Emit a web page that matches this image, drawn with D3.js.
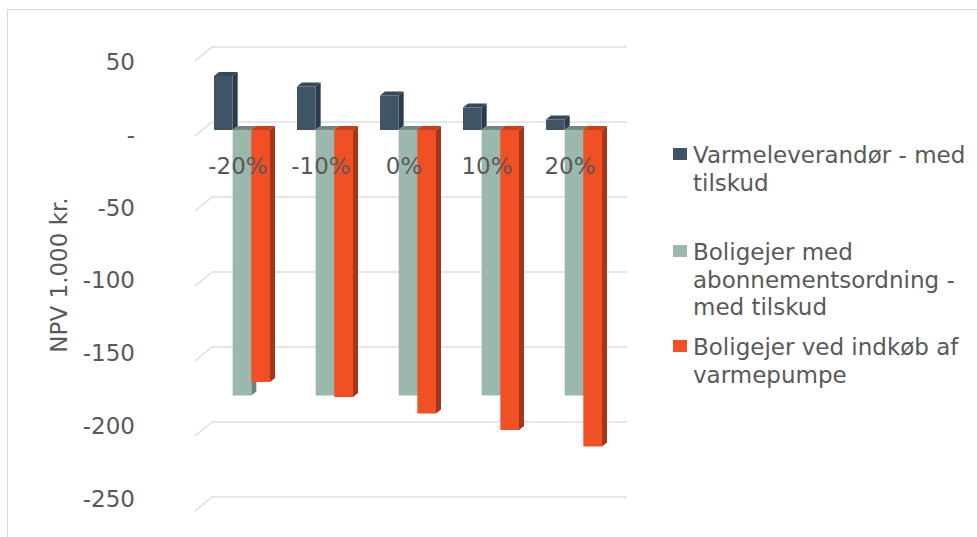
<!DOCTYPE html>
<html>
<head>
<meta charset="utf-8">
<script src="https://cdn.jsdelivr.net/npm/d3@7"></script>
<style>
  body { margin: 0; background: #fff; }
  text { font-family: "DejaVu Sans", Verdana, sans-serif; fill: #595959; }
</style>
</head>
<body>
<script>
// data
const categories = ["-20%", "-10%", "0%", "10%", "20%"];
const seriesNames = ["Varmeleverandør - med tilskud",
                     "Boligejer med abonnementsordning - med tilskud",
                     "Boligejer ved indkøb af varmepumpe"];
const varmeleverandor = [36, 29, 23, 15, 7];
const boligejerAbonnement = [-177, -177, -177, -177, -177];
const boligejerVarmepumpe = [-168, -178, -189, -200, -211];
const yTicks = [50, 0, -50, -100, -150, -200, -250];
const legendLines = [["Varmeleverandør - med", "tilskud"],
                     ["Boligejer med", "abonnementsordning -", "med tilskud"],
                     ["Boligejer ved indkøb af", "varmepumpe"]];

let screen = {width: 977, height: 537};
let colors = [
  {front: "#3f5466", top: "#34495a", side: "#2b3b48"},
  {front: "#9cb8ad", top: "#74877f", side: "#6d8079"},
  {front: "#f05023", top: "#c5401a", side: "#a4361a"}
];
let depth = {dx: 5, dy: -4};      // bar depth
let wall = {dx: 17, dy: -14};     // front-left -> back wall

let seriesData = [varmeleverandor, boligejerAbonnement, boligejerVarmepumpe];

let svg = d3.select("body").append("svg")
    .attr("width", screen.width)
    .attr("height", screen.height);

// chart border
svg.append("rect")
    .attr("x", 7.5).attr("y", 9.5)
    .attr("width", 990).attr("height", 560)
    .attr("fill", "none").attr("stroke", "#d9d9d9");

// scales
let yBar = d3.scaleLinear().domain([-250, 50]).range([505, 55]);
let yLabel = d3.scaleLinear().domain([-250, 50]).range([499, 62]);
let xBand = d3.scaleBand().domain(categories).range([203, 618]);
let xSub = d3.scaleBand().domain(seriesNames).range([11, 67]);

let backLeft = 212, backRight = 627;

//gridlines
let grid = svg.append("g");
yTicks.forEach(function(t) {
    let yb = yBar(t) - 8;
    grid.append("path")
        .attr("d", "M" + (backLeft - wall.dx) + "," + (yb - wall.dy) +
                   "L" + backLeft + "," + yb + "L" + backRight + "," + yb)
        .attr("fill", "none")
        .attr("stroke", "#dedede")
        .attr("stroke-width", 1.5);
});

//y labels
let yAxis = svg.append("g")
    .attr("transform", "translate(141,0)")
    .call(d3.axisLeft(yLabel).tickValues(yTicks).tickSize(0).tickPadding(6)
        .tickFormat(function(d) { return d === 0 ? "-" : d; }));
yAxis.select(".domain").remove();
yAxis.selectAll("text")
    .style("font-size", "23px")
    .attr("fill", "#595959")
    .style("font-family", "'DejaVu Sans', Verdana, sans-serif");

svg.append("text")
    .attr("transform", "translate(67,275) rotate(-90)")
    .attr("text-anchor", "middle")
    .style("font-size", "23px")
    .text("NPV 1.000 kr.");

//bars
let bars = svg.append("g");
let base = yBar(0);
categories.forEach(function(c, i) {
    seriesNames.forEach(function(s, k) {
        let v = seriesData[k][i];
        let x0 = xBand(c) + xSub(s);
        let x1 = x0 + xSub.bandwidth();
        let yv = yBar(v);
        let yTop = Math.min(base, yv), yBot = Math.max(base, yv);
        let col = colors[k];
        // side
        bars.append("path")
            .attr("d", "M" + x1 + "," + yTop + "L" + (x1 + depth.dx) + "," + (yTop + depth.dy) +
                       "L" + (x1 + depth.dx) + "," + (yBot + depth.dy) + "L" + x1 + "," + yBot + "Z")
            .attr("fill", col.side);
        // top
        bars.append("path")
            .attr("d", "M" + x0 + "," + yTop + "L" + x1 + "," + yTop +
                       "L" + (x1 + depth.dx) + "," + (yTop + depth.dy) +
                       "L" + (x0 + depth.dx) + "," + (yTop + depth.dy) + "Z")
            .attr("fill", col.top);
        // front
        bars.append("rect")
            .attr("x", x0).attr("y", yTop)
            .attr("width", xSub.bandwidth())
            .attr("height", yBot - yTop)
            .attr("fill", col.front);
    });
});

//category labels
svg.selectAll(".cat")
    .data(categories)
    .enter()
    .append("text")
    .attr("class", "cat")
    .attr("x", function(d) { return xBand(d) + 35; })
    .attr("y", 174)
    .attr("text-anchor", "middle")
    .style("font-size", "23px")
    .text(function(d) { return d; });

//legend
let legendY = [163, 260, 355];
let legend = svg.append("g");
legendLines.forEach(function(lines, k) {
    legend.append("rect")
        .attr("x", 673).attr("y", legendY[k] - 15)
        .attr("width", 14).attr("height", 12)
        .attr("fill", colors[k].front);
    lines.forEach(function(l, j) {
        legend.append("text")
            .attr("x", 693)
            .attr("y", legendY[k] + j * 27.5)
            .style("font-size", "23px")
            .text(l);
    });
});
</script>
</body>
</html>
